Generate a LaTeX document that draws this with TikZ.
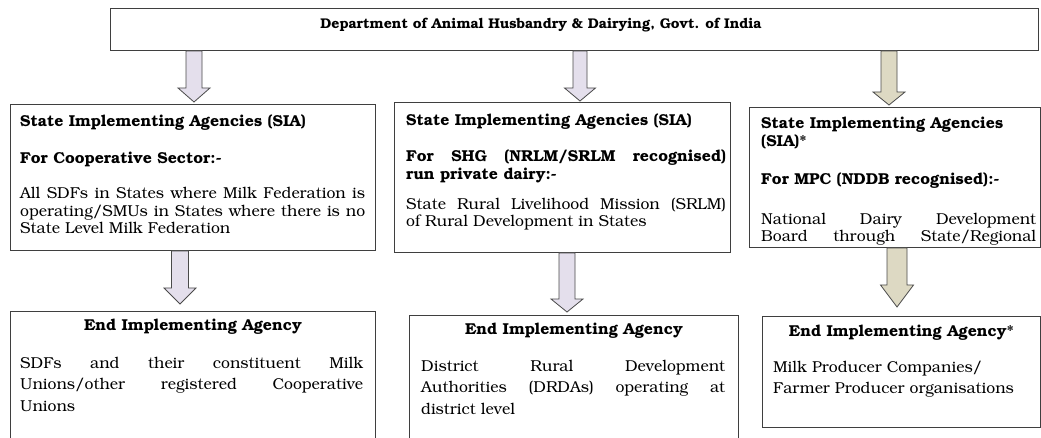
\documentclass[tikz,border=0pt]{standalone}
\usepackage[T1]{fontenc}
\usepackage{bookman}
\usetikzlibrary{calc}

\definecolor{edge}{HTML}{3F3F3F}
\definecolor{lavender}{HTML}{E4DFEC}
\definecolor{tan}{HTML}{DDD9C3}
\definecolor{arrowline}{HTML}{4A4A4A}

% Block arrow from the bottom of one box to the top of the next.
% #1 style, #2 source, #3 target, #4 x centre, #5 shaft half width,
% #6 head half width, #7 head length, #8 gap left above the target
\newcommand\flowarrow[8]{%
  \path[#1] let \p1=(#2.south), \p2=(#3.north) in
    ({#4pt-#5pt},\y1) -- ({#4pt+#5pt},\y1)
    -- ({#4pt+#5pt},{\y2+#8pt+#7pt}) -- ({#4pt+#6pt},{\y2+#8pt+#7pt})
    -- (#4pt,{\y2+#8pt})
    -- ({#4pt-#6pt},{\y2+#8pt+#7pt}) -- ({#4pt-#5pt},{\y2+#8pt+#7pt})
    -- cycle;}

% Text blocks are placed by the baseline of their last line.
\tikzset{
  box/.style={draw=edge, line width=0.9pt, rectangle, inner sep=0pt, anchor=north west},
  lilac/.style={draw=arrowline, line width=0.8pt, fill=lavender, line join=miter},
  khaki/.style={draw=arrowline, line width=0.8pt, fill=tan, line join=miter},
  upper/.style={anchor=base west, inner sep=0pt, align=left,
    font=\fontsize{15.8}{17.5}\selectfont},
  lower/.style={anchor=base west, inner sep=0pt, align=left,
    font=\fontsize{15.8}{21.5}\selectfont},
  head/.style={anchor=base, inner sep=0pt, font=\fontsize{15.8}{17}\selectfont\bfseries},
}
\newcommand\jline[2]{\makebox[#1pt][s]{#2}}

\begin{document}
\begin{tikzpicture}[x=1pt, y=-1pt]
\useasboundingbox (0,0) rectangle (1041,438);
\clip (0,0) rectangle (1041,438);
\fill[white] (0,0) rectangle (1041,438);

% ---- boxes ----
\node[box, minimum width=928pt, minimum height=42pt] (dept) at (110,8) {};
\node[box, minimum width=365pt, minimum height=146pt] (sia1) at (10,104) {};
\node[box, minimum width=336pt, minimum height=150pt] (sia2) at (394,102) {};
\node[box, minimum width=291pt, minimum height=140pt] (sia3) at (749,107) {};
\node[box, minimum width=365pt, minimum height=160pt] (eia1) at (10,311) {};
\node[box, minimum width=329pt, minimum height=160pt] (eia2) at (409,315) {};
\node[box, minimum width=278pt, minimum height=111pt] (eia3) at (762,316) {};

% ---- block arrows ----
\flowarrow{lilac}{dept}{sia1}{194}{8}{16}{14}{2}
\flowarrow{lilac}{dept}{sia2}{580}{7}{15.5}{13}{1}
\flowarrow{khaki}{dept}{sia3}{889}{8}{16}{13}{2}
\flowarrow{lilac}{sia1}{eia1}{180}{8.5}{16}{16}{7}
\flowarrow{lilac}{sia2}{eia2}{567}{8}{16}{13}{3}
\flowarrow{khaki}{sia3}{eia3}{897}{10}{16.5}{22}{9}

% ---- title ----
\node[head, font=\fontsize{14.1}{16}\selectfont\bfseries] (dept-t) at (541,29)
  {Department of Animal Husbandry \& Dairying, Govt. of India};

% ---- state implementing agencies ----
\node[upper] (sia1-t) at (20,234) {%
  \textbf{State Implementing Agencies (SIA)}\\[19.5pt]
  \textbf{For Cooperative Sector:-}\\[17.5pt]
  \jline{345}{All SDFs in States where Milk Federation is}\\
  \jline{345}{operating/SMUs in States where there is no}\\
  State Level Milk Federation};

\node[upper] (sia2-t) at (406,227) {%
  \textbf{State Implementing Agencies (SIA)}\\[18.5pt]
  \jline{320}{\bfseries For SHG (NRLM/SRLM recognised)}\\
  \textbf{run private dairy:-}\\[12.5pt]
  \jline{320}{State Rural Livelihood Mission (SRLM)}\\
  of Rural Development in States};

\begin{scope}
  \clip (sia3.north west) rectangle ($(sia3.south east)+(0,-3)$);
  \node[upper] (sia3-t) at (761,242) {%
    \textbf{State Implementing Agencies}\\
    \textbf{(SIA)*}\\[20.5pt]
    \textbf{For MPC (NDDB recognised):-}\\[22.5pt]
    \jline{275}{National Dairy Development}\\
    \jline{275}{Board through State/Regional}};
\end{scope}

% ---- end implementing agencies ----
\node[head] (eia1-h) at (eia1.north |- 0,330) {End Implementing Agency};
\node[lower] (eia1-t) at (20,411) {%
  \jline{343}{SDFs and their constituent Milk}\\
  \jline{343}{Unions/other registered Cooperative}\\
  Unions};

\node[head] (eia2-h) at (eia2.north |- 0,334) {End Implementing Agency};
\node[lower] (eia2-t) at (421,414) {%
  \jline{304}{District Rural Development}\\
  \jline{304}{Authorities (DRDAs) operating at}\\
  district level};

\node[head] (eia3-h) at (eia3.north |- 0,336) {End Implementing Agency*};
\node[lower] (eia3-t) at (773,393.5) {%
  Milk Producer Companies/\\
  Farmer Producer organisations};
\end{tikzpicture}
\end{document}
